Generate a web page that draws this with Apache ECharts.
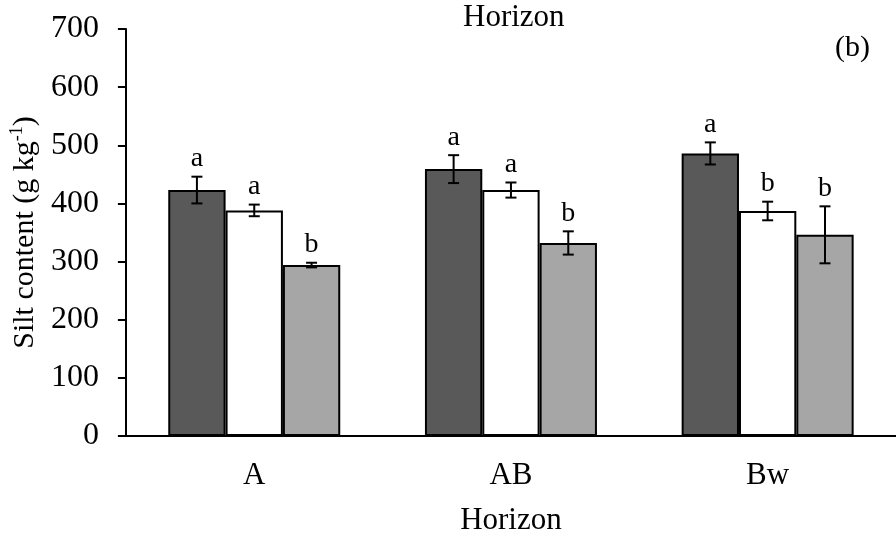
<!DOCTYPE html>
<html>
<head>
<meta charset="utf-8">
<script src="https://cdn.jsdelivr.net/npm/echarts@6/dist/echarts.min.js"></script>
<style>
  html, body { margin: 0; padding: 0; background: #fff; }
  #chart { width: 896px; height: 541px; }
</style>
</head>
<body>
<div id="chart"></div>
<script>
var horizons = ["A", "AB", "Bw"];
var yTicks = [0, 100, 200, 300, 400, 500, 600, 700];

// three treatments per horizon
var darkMean = [423, 459, 486];
var darkErr = [23, 24, 19];
var darkLetters = ["a", "a", "a"];

var whiteMean = [388, 423, 387];
var whiteErr = [10, 13, 16];
var whiteLetters = ["a", "a", "b"];

var greyMean = [294, 332, 346];
var greyErr = [4, 20, 49];
var greyLetters = ["b", "b", "b"];

var FONT = "Times New Roman, Liberation Serif, Times, serif";
var catGap = 0.33;

var groups = [
    { mean: darkMean, err: darkErr, letters: darkLetters, color: "#595959" },
    { mean: whiteMean, err: whiteErr, letters: whiteLetters, color: "#ffffff" },
    { mean: greyMean, err: greyErr, letters: greyLetters, color: "#a6a6a6" }
];

var series = [];
groups.forEach(function (g, gi) {
    series.push({
        type: "bar",
        data: g.mean,
        barGap: "0%",
        barCategoryGap: (catGap * 100) + "%",
        itemStyle: { color: g.color, borderColor: "#000", borderWidth: 2 },
        silent: true
    });
});

// error bars + significance letters, placed over each bar
groups.forEach(function (g, gi) {
    series.push({
        type: "custom",
        z: 10,
        silent: true,
        data: g.mean.map(function (m, i) { return [i, m, g.err[i]]; }),
        renderItem: function (params, api) {
            var idx = api.value(0);
            var m = api.value(1);
            var e = api.value(2);
            var letter = g.letters[idx];
            var catW = api.size([1, 0])[0];
            var bw = catW * (1 - catGap) / 3;
            var c = api.coord([idx, m]);
            var x = c[0] + (gi - 1) * bw;
            var top = api.coord([idx, m + e])[1];
            var bot = api.coord([idx, m - e])[1];
            var cap = 5.5;
            var st = { stroke: "#000", lineWidth: 2 };
            return {
                type: "group",
                children: [
                    { type: "line", shape: { x1: x, y1: top, x2: x, y2: bot }, style: st },
                    { type: "line", shape: { x1: x - cap, y1: top, x2: x + cap, y2: top }, style: st },
                    { type: "line", shape: { x1: x - cap, y1: bot, x2: x + cap, y2: bot }, style: st },
                    {
                        type: "text",
                        style: {
                            x: x, y: top - 4, text: letter,
                            align: "center", verticalAlign: "bottom",
                            fontFamily: FONT, fontSize: 28, fill: "#000"
                        }
                    }
                ]
            };
        }
    });
});

var chart = echarts.init(document.getElementById("chart"));
chart.setOption({
    animation: false,
    grid: { left: 125, right: 0, top: 29, bottom: 103 },
    xAxis: {
        type: "category",
        data: horizons,
        name: "Horizon",
        nameLocation: "middle",
        nameGap: 69,
        nameTextStyle: { fontFamily: FONT, fontSize: 31, color: "#000" },
        axisLine: { lineStyle: { color: "#000", width: 2 } },
        axisTick: { show: false },
        axisLabel: { fontFamily: FONT, fontSize: 31, color: "#000", margin: 24 }
    },
    yAxis: {
        type: "value",
        min: yTicks[0],
        max: yTicks[yTicks.length - 1],
        interval: yTicks[1] - yTicks[0],
        name: "{n|Silt content (g kg}{s|-1}{n|)}",
        nameLocation: "middle",
        nameGap: 77,
        nameTextStyle: {
            rich: {
                n: { fontFamily: FONT, fontSize: 30, color: "#000", lineHeight: 34 },
                s: { fontFamily: FONT, fontSize: 18, color: "#000", lineHeight: 34, verticalAlign: "top", padding: [0, 0, 14, 0] }
            }
        },
        splitLine: { show: false },
        axisLine: { show: true, lineStyle: { color: "#000", width: 2 } },
        axisTick: { show: true, length: 8, lineStyle: { color: "#000", width: 2 } },
        axisLabel: { fontFamily: FONT, fontSize: 32, color: "#000", margin: 27 }
    },
    graphic: [
        {
            type: "text", left: 463, top: 2,
            style: { text: "Horizon", fontFamily: FONT, fontSize: 31, fill: "#000" }
        },
        {
            type: "text", left: 835, top: 33,
            style: { text: "(b)", fontFamily: FONT, fontSize: 30, fill: "#000" }
        }
    ],
    series: series
});
</script>
</body>
</html>
